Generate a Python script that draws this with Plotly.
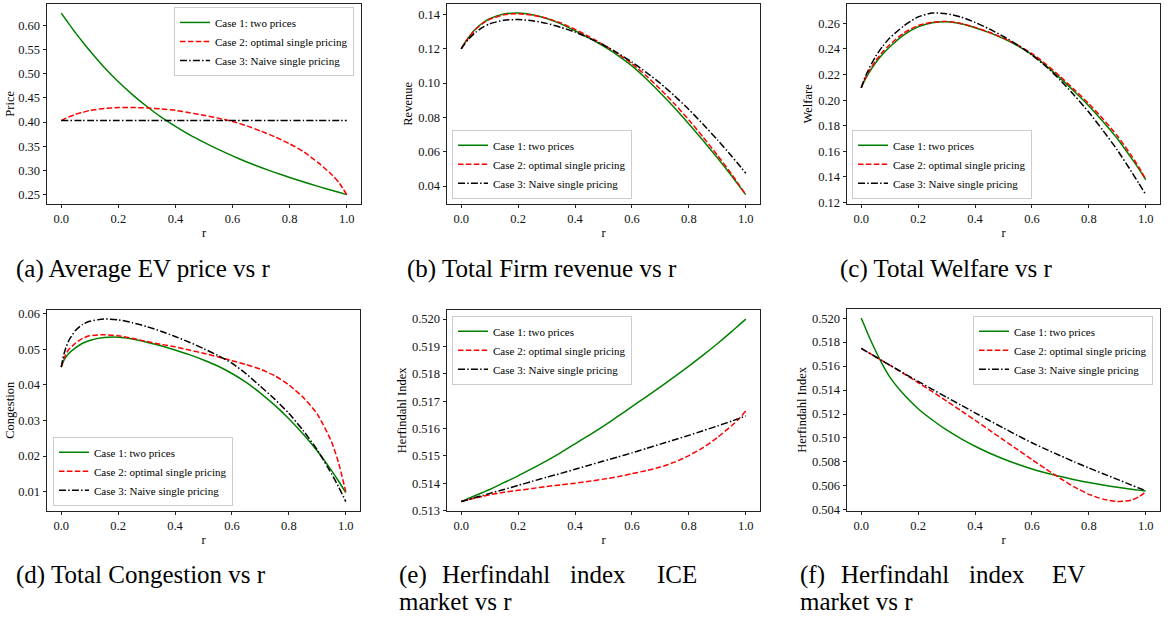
import plotly.graph_objects as go

# ---------------- data ----------------
r = [0, 0.01, 0.025, 0.05, 0.075, 0.1, 0.15, 0.2, 0.25, 0.3, 0.35, 0.4, 0.45,
     0.5, 0.55, 0.6, 0.65, 0.7, 0.75, 0.8, 0.85, 0.9, 0.95, 0.975, 1.0]

case_names = ["Case 1: two prices", "Case 2: optimal single pricing", "Case 3: Naive single pricing"]

price_case1 = [0.625, 0.6166, 0.6043, 0.584, 0.5652, 0.547, 0.513, 0.483, 0.456, 0.432, 0.410, 0.391, 0.3735,
               0.358, 0.3435, 0.330, 0.3175, 0.306, 0.2955, 0.2855, 0.276, 0.267, 0.2585, 0.2542, 0.250]
price_case2 = [0.403, 0.406, 0.410, 0.416, 0.420, 0.424, 0.428, 0.430, 0.430, 0.429, 0.427, 0.424, 0.419,
               0.414, 0.408, 0.401, 0.392, 0.381, 0.369, 0.355, 0.338, 0.316, 0.290, 0.273, 0.250]
price_case3 = [0.403] * 25

revenue_case1 = [0.1200, 0.1228, 0.1265, 0.1315, 0.1350, 0.1375, 0.1402, 0.1408, 0.1398, 0.1376, 0.1345, 0.1305, 0.1262,
                 0.1215, 0.1162, 0.1100, 0.1025, 0.0942, 0.0855, 0.0762, 0.0665, 0.0565, 0.0460, 0.0405, 0.0350]
revenue_case2 = [0.1200, 0.1227, 0.1263, 0.1312, 0.1347, 0.1372, 0.1398, 0.1404, 0.1396, 0.1378, 0.1350, 0.1313, 0.1270,
                 0.1223, 0.1172, 0.1113, 0.1043, 0.0964, 0.0878, 0.0785, 0.0685, 0.0580, 0.0470, 0.0410, 0.0350]
revenue_case3 = [0.1200, 0.1223, 0.1255, 0.1295, 0.1324, 0.1345, 0.1366, 0.1370, 0.1363, 0.1348, 0.1325, 0.1297, 0.1262,
                 0.1222, 0.1175, 0.1122, 0.1063, 0.0998, 0.0925, 0.0846, 0.0760, 0.0670, 0.0575, 0.0525, 0.0475]

welfare_case1 = [0.2096, 0.2145, 0.2205, 0.2290, 0.2358, 0.2415, 0.2510, 0.2572, 0.2604, 0.2612, 0.2597, 0.2566, 0.2527,
                 0.2480, 0.2424, 0.2355, 0.2268, 0.2170, 0.2065, 0.1955, 0.1832, 0.1700, 0.1545, 0.1465, 0.1378]
welfare_case2 = [0.2096, 0.2150, 0.2218, 0.2305, 0.2375, 0.2432, 0.2525, 0.2582, 0.2609, 0.2614, 0.2599, 0.2568, 0.2530,
                 0.2484, 0.2430, 0.2364, 0.2280, 0.2184, 0.2080, 0.1972, 0.1852, 0.1722, 0.1565, 0.1478, 0.1382]
welfare_case3 = [0.2096, 0.2160, 0.2235, 0.2340, 0.2420, 0.2485, 0.2580, 0.2650, 0.2680, 0.2675, 0.2650, 0.2607, 0.2556,
                 0.2497, 0.2430, 0.2353, 0.2262, 0.2155, 0.2035, 0.1905, 0.1762, 0.1610, 0.1440, 0.1352, 0.1262]

congestion_case1 = [0.0450, 0.0470, 0.0487, 0.0504, 0.0517, 0.0525, 0.0533, 0.0534, 0.0529, 0.0520, 0.0510, 0.0498, 0.0485,
                    0.0470, 0.0453, 0.0432, 0.0407, 0.0377, 0.0343, 0.0305, 0.0262, 0.0214, 0.0159, 0.0129, 0.0097]
congestion_case2 = [0.0450, 0.0475, 0.0498, 0.0517, 0.0531, 0.0538, 0.0541, 0.0538, 0.0531, 0.0522, 0.0514, 0.0507, 0.0498,
                    0.0489, 0.0479, 0.0468, 0.0457, 0.0444, 0.0426, 0.0400, 0.0365, 0.0318, 0.0240, 0.0180, 0.0100]
congestion_case3 = [0.0450, 0.0488, 0.0522, 0.0553, 0.0570, 0.0579, 0.0585, 0.0583, 0.0575, 0.0564, 0.0551, 0.0536, 0.0520,
                    0.0502, 0.0483, 0.0461, 0.0431, 0.0396, 0.0360, 0.0320, 0.0272, 0.0217, 0.0150, 0.0113, 0.0072]

hhi_ice_case1 = [0.51333, 0.51337, 0.51344, 0.51355, 0.51366, 0.51377, 0.51402, 0.51427, 0.51454, 0.51482, 0.51512, 0.51544, 0.51576,
                 0.51609, 0.51644, 0.51680, 0.51716, 0.51752, 0.51790, 0.51828, 0.51868, 0.51910, 0.51954, 0.51977, 0.52000]
hhi_ice_case2 = [0.51333, 0.51336, 0.51340, 0.51346, 0.51352, 0.51358, 0.51367, 0.51374, 0.51381, 0.51388, 0.51394, 0.51400, 0.51407,
                 0.51415, 0.51424, 0.51435, 0.51446, 0.51459, 0.51477, 0.51501, 0.51530, 0.51567, 0.51610, 0.51635, 0.51664]
hhi_ice_case3 = [0.51333, 0.51336, 0.51340, 0.51348, 0.51355, 0.51363, 0.51377, 0.51392, 0.51407, 0.51422, 0.51436, 0.51451, 0.51466,
                 0.51481, 0.51496, 0.51511, 0.51527, 0.51543, 0.51559, 0.51575, 0.51592, 0.51609, 0.51627, 0.51636, 0.51646]

hhi_ev_case1 = [0.52000, 0.51945, 0.51860, 0.51730, 0.51612, 0.51510, 0.51362, 0.51244, 0.51150, 0.51067, 0.50995, 0.50931, 0.50875,
                0.50825, 0.50781, 0.50742, 0.50708, 0.50678, 0.50652, 0.50628, 0.50607, 0.50588, 0.50572, 0.50565, 0.50558]
hhi_ev_case2 = [0.51747, 0.51733, 0.51713, 0.51678, 0.51643, 0.51608, 0.51536, 0.51462, 0.51386, 0.51308, 0.51229, 0.51148, 0.51066,
                0.50984, 0.50902, 0.50820, 0.50740, 0.50662, 0.50590, 0.50530, 0.50490, 0.50470, 0.50482, 0.50508, 0.50552]
hhi_ev_case3 = [0.51747, 0.51733, 0.51713, 0.51678, 0.51643, 0.51609, 0.51540, 0.51472, 0.51406, 0.51340, 0.51275, 0.51210, 0.51146,
                0.51083, 0.51020, 0.50960, 0.50905, 0.50852, 0.50800, 0.50750, 0.50702, 0.50655, 0.50607, 0.50583, 0.50560]

x_ticks = [0.0, 0.2, 0.4, 0.6, 0.8, 1.0]
y_titles = ["Price", "Revenue", "Welfare", "Congestion", "Herfindahl Index", "Herfindahl Index"]
y_ticks = [
    [0.25, 0.30, 0.35, 0.40, 0.45, 0.50, 0.55, 0.60],
    [0.04, 0.06, 0.08, 0.10, 0.12, 0.14],
    [0.12, 0.14, 0.16, 0.18, 0.20, 0.22, 0.24, 0.26],
    [0.01, 0.02, 0.03, 0.04, 0.05, 0.06],
    [0.513, 0.514, 0.515, 0.516, 0.517, 0.518, 0.519, 0.520],
    [0.504, 0.506, 0.508, 0.510, 0.512, 0.514, 0.516, 0.518, 0.520],
]
y_formats = [".2f", ".2f", ".2f", ".2f", ".3f", ".3f"]
panels = [
    (price_case1, price_case2, price_case3),
    (revenue_case1, revenue_case2, revenue_case3),
    (welfare_case1, welfare_case2, welfare_case3),
    (congestion_case1, congestion_case2, congestion_case3),
    (hhi_ice_case1, hhi_ice_case2, hhi_ice_case3),
    (hhi_ev_case1, hhi_ev_case2, hhi_ev_case3),
]

# ---------------- layout helpers ----------------
W, H = 1170, 620
SERIF = "Liberation Serif, Times New Roman, serif"

# axes boxes in pixels (left, right, top, bottom)
boxes = [(47, 361, 1, 204), (447, 760, 1, 204), (847, 1160, 1, 204),
         (47, 360, 312, 516), (447, 760, 312, 516), (847, 1160, 311, 516)]
# legend placement (x px, y px, xanchor, yanchor)
legend_pos = [(354, 4, "right", "top"), (452, 199, "left", "bottom"), (852, 199, "left", "bottom"),
              (53, 511, "left", "bottom"), (452, 318, "left", "top"), (1153, 318, "right", "top")]
title_standoff = [0, 2, 2, 0, 2, 2]

colors = ["#008000", "#ff0000", "#000000"]
dashes = ["solid", "5.5px,2.4px", "7px,2.2px,1.5px,2.2px"]

fig = go.Figure()
layout = dict(width=W, height=H, margin=dict(l=0, r=0, t=0, b=0),
              paper_bgcolor="white", plot_bgcolor="white",
              font=dict(family=SERIF, size=12, color="black"))

for i, series in enumerate(panels):
    k = i + 1
    xa = "x" if k == 1 else f"x{k}"
    ya = "y" if k == 1 else f"y{k}"
    lg = "legend" if k == 1 else f"legend{k}"
    for j, vals in enumerate(series):
        fig.add_trace(go.Scatter(
            x=r, y=vals, mode="lines", name=case_names[j],
            xaxis=xa, yaxis=ya, legend=lg,
            line=dict(color=colors[j], width=1.5, dash=dashes[j], shape="spline", smoothing=0.6),
            hoverinfo="skip"))
    ymin = min(min(s) for s in series)
    ymax = max(max(s) for s in series)
    pad = (ymax - ymin) * 0.05
    l, rgt, t, b = boxes[i]
    axis_common = dict(showline=True, linecolor="#222", linewidth=1, mirror=True,
                       ticks="outside", ticklen=3.5, tickwidth=0.8, tickcolor="#222",
                       showgrid=False, zeroline=False,
                       tickfont=dict(family=SERIF, size=12.5, color="#111"))
    layout["xaxis" if k == 1 else f"xaxis{k}"] = dict(
        domain=[l / W, rgt / W], anchor=ya, range=[-0.05, 1.05],
        tickvals=x_ticks, tickformat=".1f",
        title=dict(text="r", font=dict(family=SERIF, size=12.5), standoff=3), **axis_common)
    layout["yaxis" if k == 1 else f"yaxis{k}"] = dict(
        domain=[1 - b / H, 1 - t / H], anchor=xa, range=[ymin - pad, ymax + pad],
        tickvals=y_ticks[i], tickformat=y_formats[i],
        title=dict(text=y_titles[i], font=dict(family=SERIF, size=12.5), standoff=title_standoff[i]),
        **axis_common)
    lx, ly, xan, yan = legend_pos[i]
    layout[lg] = dict(x=lx / W, y=1 - ly / H, xanchor=xan, yanchor=yan,
                      bgcolor="rgba(255,255,255,0.8)", bordercolor="#cccccc", borderwidth=1,
                      font=dict(family=SERIF, size=11, color="black"),
                      tracegroupgap=0, itemwidth=30)

fig.update_layout(**layout)

# ---------------- captions ----------------
CAP = dict(family=SERIF, size=25, color="black")

def caption(text, xpx, ypx, anchor="left"):
    fig.add_annotation(text=text, x=xpx / W, y=1 - ypx / H, xref="paper", yref="paper",
                       xanchor=anchor, yanchor="middle", showarrow=False, font=CAP)

caption("(a) Average EV price vs r", 14, 270)
caption("(b) Total Firm revenue vs r", 405, 270)
caption("(c) Total Welfare vs r", 838, 270)
caption("(d) Total Congestion vs r", 14, 581)
# justified two-line captions
caption("(e)", 397, 581)
caption("Herfindahl", 496, 581, "center")
caption("index", 598, 581, "center")
caption("ICE", 699, 581, "right")
caption("market vs r", 397, 608)
caption("(f)", 798, 581)
caption("Herfindahl", 895, 581, "center")
caption("index", 997, 581, "center")
caption("EV", 1087, 581, "right")
caption("market vs r", 798, 608)

fig.write_html("out.html", config={"displayModeBar": False},
               post_script="document.body.style.margin='0px';")
